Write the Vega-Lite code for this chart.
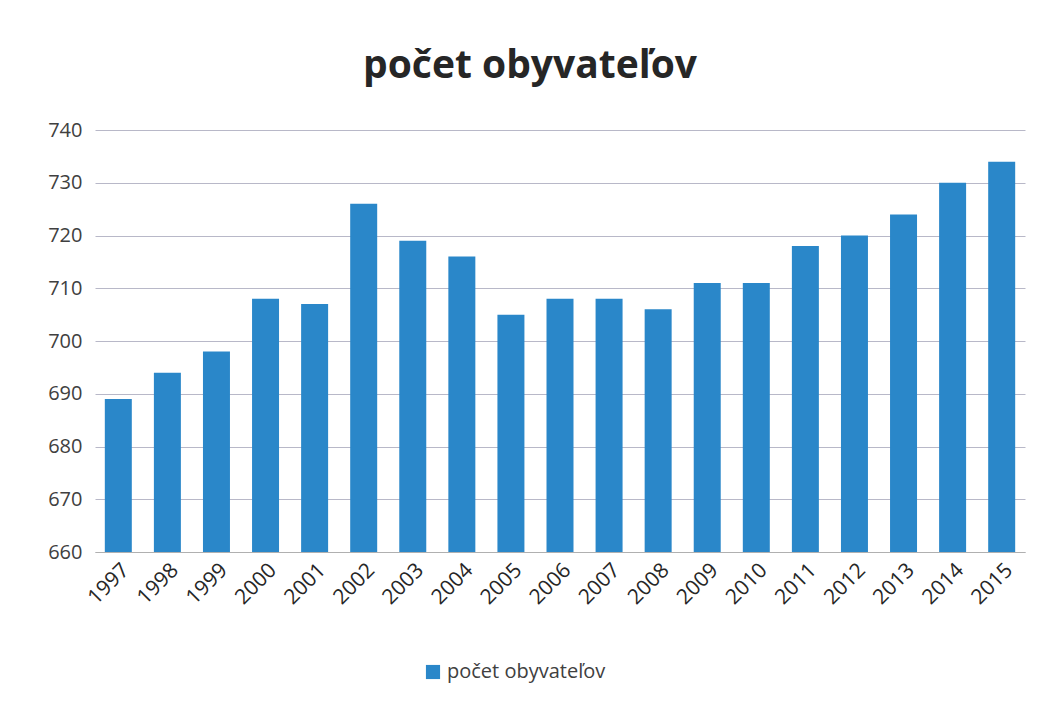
{
  "$schema": "https://vega.github.io/schema/vega-lite/v6.json",
  "autosize": {"type": "none"},
  "padding": {"left": 95, "top": 130, "right": 16, "bottom": 156},
  "width": 930,
  "height": 422,
  "background": "white",
  "title": {
    "text": "počet obyvateľov",
    "fontSize": 39,
    "fontWeight": "bold",
    "font": "Open Sans",
    "color": "#262626",
    "anchor": "middle",
    "dx": -30,
    "offset": 34
  },
  "data": {
    "values": [
      {"year": "1997", "value": 689, "series": "počet obyvateľov"},
      {"year": "1998", "value": 694, "series": "počet obyvateľov"},
      {"year": "1999", "value": 698, "series": "počet obyvateľov"},
      {"year": "2000", "value": 708, "series": "počet obyvateľov"},
      {"year": "2001", "value": 707, "series": "počet obyvateľov"},
      {"year": "2002", "value": 726, "series": "počet obyvateľov"},
      {"year": "2003", "value": 719, "series": "počet obyvateľov"},
      {"year": "2004", "value": 716, "series": "počet obyvateľov"},
      {"year": "2005", "value": 705, "series": "počet obyvateľov"},
      {"year": "2006", "value": 708, "series": "počet obyvateľov"},
      {"year": "2007", "value": 708, "series": "počet obyvateľov"},
      {"year": "2008", "value": 706, "series": "počet obyvateľov"},
      {"year": "2009", "value": 711, "series": "počet obyvateľov"},
      {"year": "2010", "value": 711, "series": "počet obyvateľov"},
      {"year": "2011", "value": 718, "series": "počet obyvateľov"},
      {"year": "2012", "value": 720, "series": "počet obyvateľov"},
      {"year": "2013", "value": 724, "series": "počet obyvateľov"},
      {"year": "2014", "value": 730, "series": "počet obyvateľov"},
      {"year": "2015", "value": 734, "series": "počet obyvateľov"}
    ]
  },
  "mark": {"type": "bar", "clip": true},
  "encoding": {
    "x": {
      "field": "year",
      "type": "ordinal",
      "scale": {"paddingInner": 0.45, "paddingOuter": 0.2},
      "axis": {
        "title": null,
        "labelAngle": -45,
        "labelFontSize": 21,
        "labelFont": "Open Sans",
        "labelColor": "#262626",
        "ticks": false,
        "domainColor": "#b0b0b0",
        "labelPadding": 7
      }
    },
    "y": {
      "field": "value",
      "type": "quantitative",
      "scale": {"domain": [660, 740], "zero": false, "nice": false},
      "axis": {
        "title": null,
        "values": [660, 670, 680, 690, 700, 710, 720, 730, 740],
        "labelFontSize": 20,
        "labelFont": "Open Sans",
        "labelColor": "#404040",
        "ticks": false,
        "domain": false,
        "labelPadding": 13,
        "gridColor": "#b8b8c8",
        "gridWidth": 1
      }
    },
    "color": {
      "field": "series",
      "type": "nominal",
      "scale": {"range": ["#2a87c9"]},
      "legend": {
        "title": null,
        "orient": "none",
        "legendX": 328,
        "legendY": 532,
        "direction": "horizontal",
        "symbolType": "square",
        "symbolSize": 200,
        "labelFontSize": 20,
        "labelFont": "Open Sans",
        "labelColor": "#404040",
        "symbolStrokeWidth": 0
      }
    }
  },
  "config": {"view": {"stroke": null}}
}
